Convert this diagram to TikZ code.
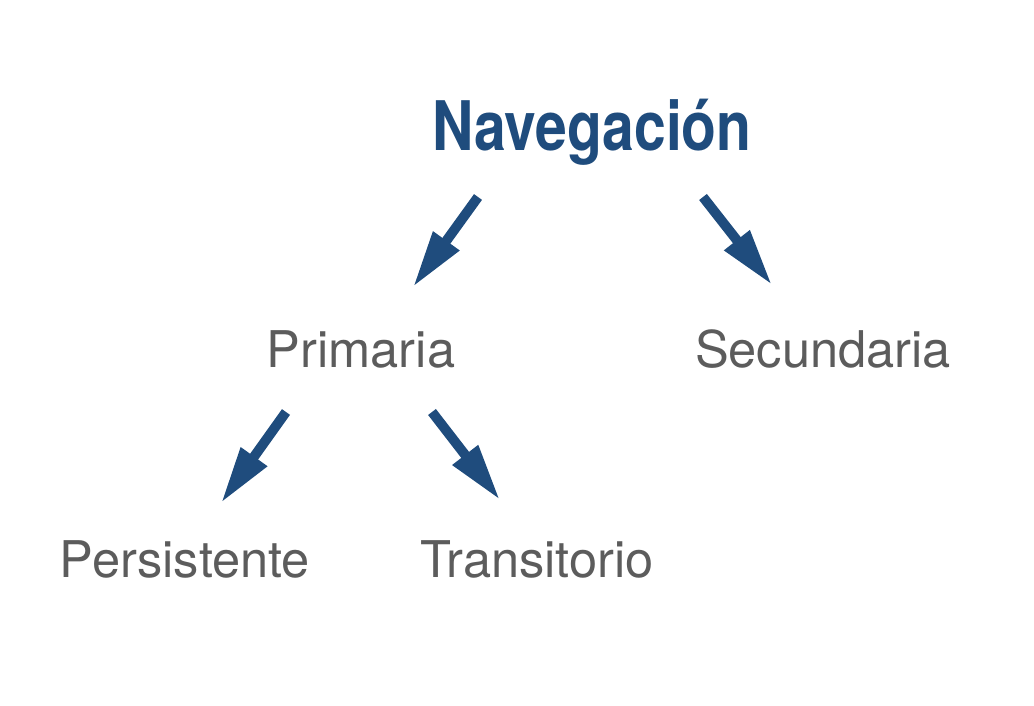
\documentclass[tikz,border=0pt]{standalone}
\usepackage{fontspec}
\setmainfont{TeX Gyre Heros}
\newfontfamily\condbold[FakeStretch=0.835]{TeX Gyre Heros}
\usetikzlibrary{arrows.meta}
\definecolor{navblue}{HTML}{1F4C7D}
\definecolor{labgrey}{HTML}{5C5C5C}

\begin{document}
\begin{tikzpicture}[x=0.02cm,y=-0.02cm]
        \tikzstyle{every node}=[anchor=base,inner sep=0pt]
        \tikzstyle{title}=[text=navblue,font=\condbold\bfseries\fontsize{38.9}{40}\selectfont]
        \tikzstyle{label}=[text=labgrey,font=\fontsize{28.8}{30}\selectfont]
        \tikzstyle{pointer}=[draw=navblue,line width=5.6pt,-{Triangle[length=1.14cm,width=0.6cm]}]

        \useasboundingbox (0,0) rectangle (1034,706);

        \node[title] (nav) at (592,151) {Navegación};
        \node[label] (prim) at (361,367) {Primaria};
        \node[label] (sec) at (823,367) {Secundaria};
        \node[label] (pers) at (185,577) {Persistente};
        \node[label] (trans) at (537,577) {Transitorio};

        % tails and tips of the arrows
        \coordinate (nav_l) at (478,197);
        \coordinate (prim_t) at (413,287);
        \coordinate (nav_r) at (703,197);
        \coordinate (sec_t) at (772,285);
        \coordinate (prim_l) at (286,412);
        \coordinate (pers_t) at (221,503);
        \coordinate (prim_r) at (432,412);
        \coordinate (trans_t) at (500,500);

        \foreach \a / \b in {nav_l/prim_t,nav_r/sec_t,prim_l/pers_t,prim_r/trans_t} {
            \draw[pointer] (\a) -- (\b);
        }
    \end{tikzpicture}
\end{document}
